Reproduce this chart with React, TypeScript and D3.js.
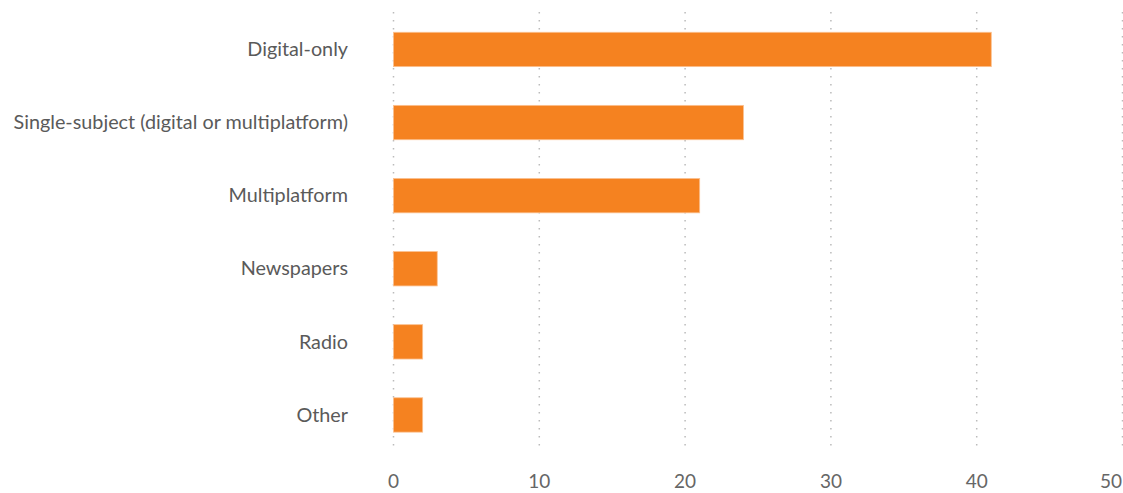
import React from "react";
import * as d3 from "d3";

const categories = [
  "Digital-only",
  "Single-subject (digital or multiplatform)",
  "Multiplatform",
  "Newspapers",
  "Radio",
  "Other",
];
const values = [41, 24, 21, 3, 2, 2];
const xTicks = [0, 10, 20, 30, 40, 50];

const W = 1123;
const H = 493;

export default function App() {
  const x = d3.scaleLinear().domain([0, 50]).range([393.5, 1122.5]);
  const y = d3
    .scaleBand<string>()
    .domain(categories)
    .range([12.9, 451.5])
    .paddingInner(0.53)
    .paddingOuter(0.265);
  const font = "Lato, sans-serif";
  return (
    <svg
      width={W}
      height={H}
      style={{ position: "absolute", left: 0, top: 0, background: "#fff" }}
    >
      {xTicks.map((t, i) => {
        const last = i === xTicks.length - 1;
        return (
          <g key={t}>
            <line
              x1={x(t)}
              x2={x(t)}
              y1={12}
              y2={446}
              stroke="#bbb"
              strokeWidth={1.5}
              strokeDasharray="1.5 6.5"
            />
            <text
              x={last ? W - 1 : x(t)}
              y={488}
              textAnchor={last ? "end" : "middle"}
              fontFamily={font}
              fontSize={19}
              fill="#666"
            >
              {t}
            </text>
          </g>
        );
      })}
      {categories.map((c, i) => (
        <g key={c}>
          <rect
            x={x(0)}
            y={y(c)}
            width={x(values[i]) - x(0)}
            height={y.bandwidth()}
            fill="#F58220"
            stroke="#FBC08F"
            strokeWidth={0.8}
          />
          <text
            x={348}
            y={(y(c) as number) + y.bandwidth() / 2}
            dy="0.34em"
            textAnchor="end"
            fontFamily={font}
            fontSize={19.8}
            fill="#5a5a5a"
          >
            {c}
          </text>
        </g>
      ))}
    </svg>
  );
}
